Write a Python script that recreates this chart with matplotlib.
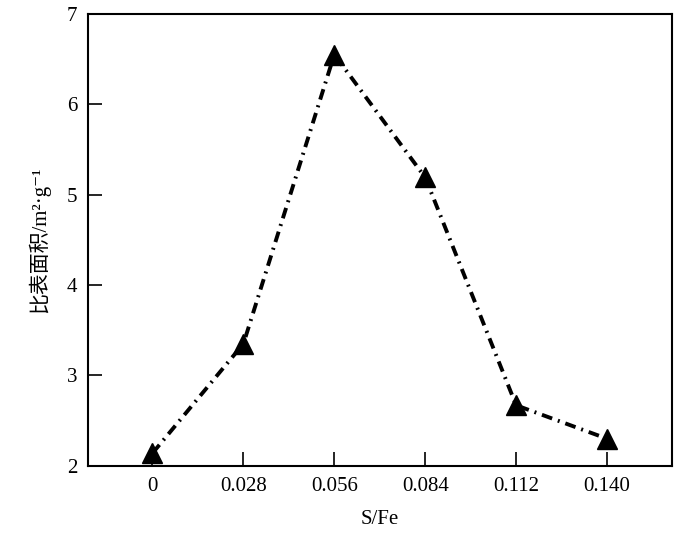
import matplotlib
matplotlib.use("Agg")
import matplotlib.pyplot as plt

plt.rcParams['font.family'] = ['Liberation Serif', 'Noto Sans CJK SC', 'DejaVu Sans']

x_values = [0, 0.028, 0.056, 0.084, 0.112, 0.140]
x_labels = ['0', '0.028', '0.056', '0.084', '0.112', '0.140']
surface_area = [2.14, 3.35, 6.55, 5.19, 2.67, 2.30]
y_ticks = [2, 3, 4, 5, 6, 7]

fig = plt.figure(figsize=(7, 5.33), dpi=100)
ax = fig.add_axes([0.126, 0.126, 0.834, 0.848])

ax.plot(x_values, surface_area, color='black', linewidth=2.8,
        linestyle=(0, (2.8, 1.55, 0.5, 1.55)), marker='^', markersize=14,
        markerfacecolor='black', markeredgecolor='black')

ax.set_xlim(-0.0198, 0.160)
ax.set_ylim(2, 7)
ax.set_xticks(x_values)
ax.set_xticklabels(x_labels)
ax.set_yticks(y_ticks)
ax.tick_params(direction='in', length=10, width=1.2, labelsize=15, pad=8)
for s in ax.spines.values():
    s.set_linewidth(1.5)

ax.set_xlabel('S/Fe', fontsize=15, labelpad=10)
ax.set_ylabel('比表面积/m²·g⁻¹', fontsize=15, labelpad=12)

fig.savefig('out.png', dpi=100)
